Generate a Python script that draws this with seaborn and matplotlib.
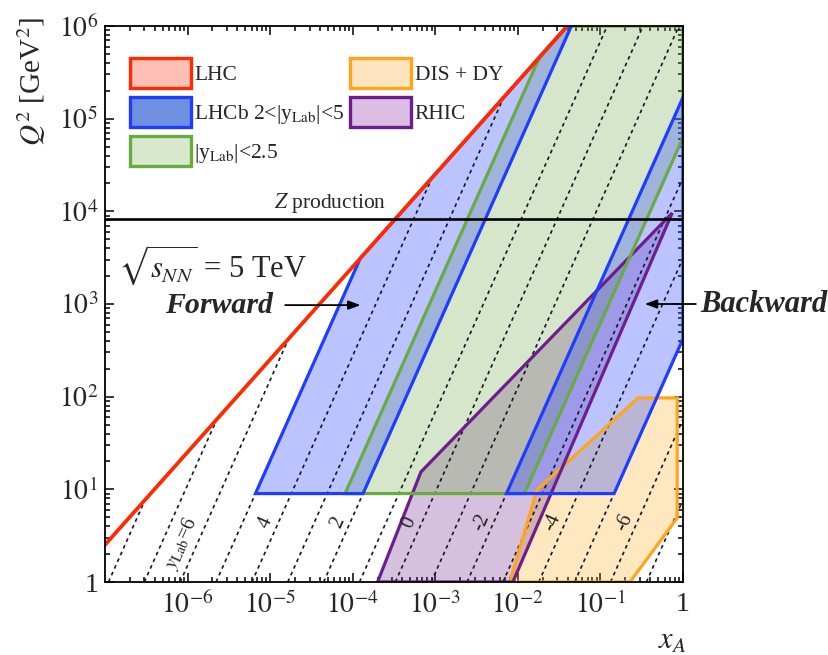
import numpy as np
import pandas as pd
import matplotlib
matplotlib.use("Agg")
import matplotlib.pyplot as plt
from matplotlib.patches import Polygon, Patch
from matplotlib.ticker import FixedLocator, LogLocator, NullFormatter
import seaborn as sns

# ---- kinematics -------------------------------------------------------
sqrt_s = 5020.0            # GeV, p-Pb centre-of-mass energy per nucleon pair
s_nn = sqrt_s ** 2
y_shift = 0.5              # lab-frame rapidity shift of the p-Pb system
mz2 = 91.19 ** 2           # Z boson mass squared

x_range = (1e-7, 1.0)
q2_range = (1.0, 1e6)
lhc_q2_min = 9.0

# rapidity lines (dashed) and the ones that carry a label
y_lab_lines = [8, 7, 6, 5, 4, 3, 2, 1, 0, -1, -2, -3, -4, -5, -6, -7]
y_lab_labelled = [6, 4, 2, 0, -2, -4, -6]
y_lab_label_text = [r"$y_{\rm Lab}$=6", "4", "2", "0", "-2", "-4", "-6"]

# LHC acceptance bands in lab rapidity
forward_band = (2.0, 5.0)
backward_band = (-5.0, -2.0)
central_band = (-2.5, 2.5)

# RHIC and fixed-target/DY coverage (polygon corners)
rhic_x = [2.0e-4, 6.7e-4, 0.74, 8.7e-3]
rhic_q2 = [1.0, 15.4, 9.6e3, 1.0]
dis_dy_x = [8.0e-3, 0.017, 0.285, 0.85, 0.85, 0.228]
dis_dy_q2 = [1.0, 9.8, 97.0, 97.0, 4.9, 1.0]

x_ticks = [1e-6, 1e-5, 1e-4, 1e-3, 1e-2, 1e-1, 1.0]
x_tick_labels = [r"$10^{-6}$", r"$10^{-5}$", r"$10^{-4}$", r"$10^{-3}$",
                 r"$10^{-2}$", r"$10^{-1}$", "1"]
y_ticks = [1.0, 1e1, 1e2, 1e3, 1e4, 1e5, 1e6]
y_tick_labels = ["1", r"$10^{1}$", r"$10^{2}$", r"$10^{3}$", r"$10^{4}$",
                 r"$10^{5}$", r"$10^{6}$"]

# ---- colours ------------------------------------------------------------
c_lhc = "#ff2a00"
c_lhcb = "#1f3dff"
c_central = "#6aaa42"
c_dis = "#ffa51a"
c_rhic = "#6c1f8c"


def x_of(y, q2):
    """x_A probed at rapidity y (lab) and scale Q^2 for 2->1 kinematics."""
    return np.sqrt(q2 / s_nn) * np.exp(-(y - y_shift))


def band_polygon(y_lo, y_hi):
    q2 = np.geomspace(lhc_q2_min, q2_range[1], 800)
    left = np.maximum(x_of(y_hi, q2), q2 / s_nn)
    right = np.minimum(x_of(y_lo, q2), 1.0)
    ok = left < right
    xs = np.concatenate([left[ok], right[ok][::-1]])
    qs = np.concatenate([q2[ok], q2[ok][::-1]])
    return np.column_stack([xs, qs])


def add_region(ax, verts, face, edge, z_fill, z_edge):
    ax.add_patch(Polygon(verts, closed=True, facecolor=face, lw=0,
                         zorder=z_fill))
    ax.add_patch(Polygon(verts, closed=True, fill=False, edgecolor=edge,
                         lw=2.3, joinstyle="miter", zorder=z_edge))


sns.set_theme(style="ticks")
plt.rcParams["font.family"] = ["Liberation Serif", "DejaVu Serif"]
plt.rcParams["mathtext.fontset"] = "stix"
plt.rcParams["axes.linewidth"] = 1.3

fig = plt.figure(figsize=(8.29, 6.55), dpi=100)
ax = fig.add_axes([105 / 829, 73 / 655, 578 / 829, 556 / 655])
ax.set_xscale("log")
ax.set_yscale("log")
ax.set_xlim(*x_range)
ax.set_ylim(*q2_range)

# coverage regions: fills first, outlines on top
add_region(ax, np.column_stack([dis_dy_x, dis_dy_q2]),
           (1.0, 0.65, 0.0, 0.25), c_dis, 1.0, 1.60)
add_region(ax, np.column_stack([rhic_x, rhic_q2]),
           (0.42, 0.12, 0.54, 0.28), c_rhic, 1.1, 1.61)
add_region(ax, band_polygon(*central_band),
           (0.42, 0.66, 0.26, 0.28), c_central, 1.2, 1.62)
for band in (forward_band, backward_band):
    add_region(ax, band_polygon(*band),
               (0.2, 0.3, 1.0, 0.33), c_lhcb, 1.3, 1.63)

# dashed lines of constant lab rapidity, cut at the kinematic limit
rows = []
for k in y_lab_lines:
    q2_lo = max(q2_range[0], x_range[0] ** 2 * s_nn * np.exp(2 * (k - y_shift)))
    q2_hi = min(q2_range[1], s_nn * np.exp(-2 * (k - y_shift)),
                s_nn * np.exp(2 * (k - y_shift)))
    if q2_hi <= q2_lo:
        continue
    for q in (q2_lo, q2_hi):
        rows.append({"y_lab": k, "x": x_of(k, q), "q2": q})
lines_df = pd.DataFrame(rows)
sns.lineplot(data=lines_df, x="x", y="q2", units="y_lab", estimator=None,
             sort=False, color="#15152e", lw=1.2, linestyle=(0, (2.2, 2.2)),
             ax=ax, zorder=1.5, legend=False)

# kinematic limit of the LHC
limit_df = pd.DataFrame({"x": [x_range[0], q2_range[1] / s_nn],
                         "q2": [x_range[0] * s_nn, q2_range[1]]})
sns.lineplot(data=limit_df, x="x", y="q2", sort=False, estimator=None,
             color=c_lhc, lw=2.7, ax=ax, zorder=2)

# Z production scale
ax.axhline(mz2, color="black", lw=1.9, zorder=2.1)
ax.text(0.39, mz2 * 1.1, r"$Z$ production", transform=ax.get_yaxis_transform(),
        ha="center", va="bottom", fontsize=15.5)

# rapidity labels next to their lines
for k, txt in zip(y_lab_labelled, y_lab_label_text):
    q2_lab = 2.6 if k == 6 else 4.4
    ax.annotate(txt, xy=(x_of(k, q2_lab), q2_lab),
                xytext=(-9 if k != 6 else -12, 0),
                textcoords="offset points", ha="center", va="center",
                rotation=66, rotation_mode="anchor", fontsize=14.5, zorder=3)

# energy and direction annotations
ax.text(0.022, 0.57, r"$\sqrt{s_{NN}}$ = 5 TeV", transform=ax.transAxes,
        ha="left", va="center", fontsize=22)
ax.text(0.29, 0.497, "Forward", transform=ax.transAxes, ha="right",
        va="center", fontsize=21.5, fontweight="bold", fontstyle="italic")
ax.annotate("", xy=(0.447, 0.498), xytext=(0.307, 0.498),
            xycoords="axes fraction", textcoords="axes fraction",
            arrowprops=dict(arrowstyle="-|>,head_length=0.6,head_width=0.22",
                            color="black", lw=1.3))
ax.text(1.03, 0.499, "Backward", transform=ax.transAxes, ha="left",
        va="center", fontsize=22, fontweight="bold", fontstyle="italic",
        clip_on=False)
ax.annotate("", xy=(0.929, 0.500), xytext=(1.027, 0.500),
            xycoords="axes fraction", textcoords="axes fraction",
            arrowprops=dict(arrowstyle="-|>,head_length=0.6,head_width=0.22",
                            color="black", lw=1.3),
            annotation_clip=False)

# ticks
ax.xaxis.set_major_locator(FixedLocator(x_ticks))
ax.set_xticklabels(x_tick_labels)
ax.yaxis.set_major_locator(FixedLocator(y_ticks))
ax.set_yticklabels(y_tick_labels)
ax.xaxis.set_minor_locator(LogLocator(base=10, subs=np.arange(2, 10), numticks=20))
ax.yaxis.set_minor_locator(LogLocator(base=10, subs=np.arange(2, 10), numticks=20))
ax.xaxis.set_minor_formatter(NullFormatter())
ax.yaxis.set_minor_formatter(NullFormatter())
ax.tick_params(which="both", direction="in", top=True, right=True,
               color="black", width=1.1, labelsize=20)
ax.tick_params(which="major", length=6.5)
ax.tick_params(which="minor", length=3.5)
ax.tick_params(axis="x", which="major", pad=7)
ax.tick_params(axis="y", which="major", pad=5)
for sp in ax.spines.values():
    sp.set_color("black")
    sp.set_zorder(3)
ax.set_xlabel("")
ax.set_ylabel("")

fig.text(32 / 829, 1 - 81 / 655, r"$Q^2$ [GeV$^2$]", rotation=90,
         ha="center", va="center", fontsize=21)
fig.text(672 / 829, 1 - 641 / 655, r"$x_A$", ha="center", va="center",
         fontsize=22)

# legend
handles = [
    Patch(facecolor="#ffbfb5", edgecolor=c_lhc, lw=2.4, label="LHC"),
    Patch(facecolor="#6f90e0", edgecolor=c_lhcb, lw=2.4,
          label=r"LHCb 2<|y$_{\rm Lab}$|<5"),
    Patch(facecolor="#d9e8cc", edgecolor=c_central, lw=2.4,
          label=r"|y$_{\rm Lab}$|<2.5"),
    Patch(facecolor="#ffe4c0", edgecolor=c_dis, lw=2.4, label="DIS + DY"),
    Patch(facecolor="#dcbde3", edgecolor=c_rhic, lw=2.4, label="RHIC"),
]
ax.legend(handles=handles, ncol=2, loc="upper left",
          bbox_to_anchor=(0.043, 0.942), frameon=False, fontsize=15.5,
          handlelength=2.85, handleheight=1.75, handletextpad=0.15,
          labelspacing=0.42, columnspacing=0.25, borderpad=0, borderaxespad=0)

fig.savefig("out.png", dpi=100)
